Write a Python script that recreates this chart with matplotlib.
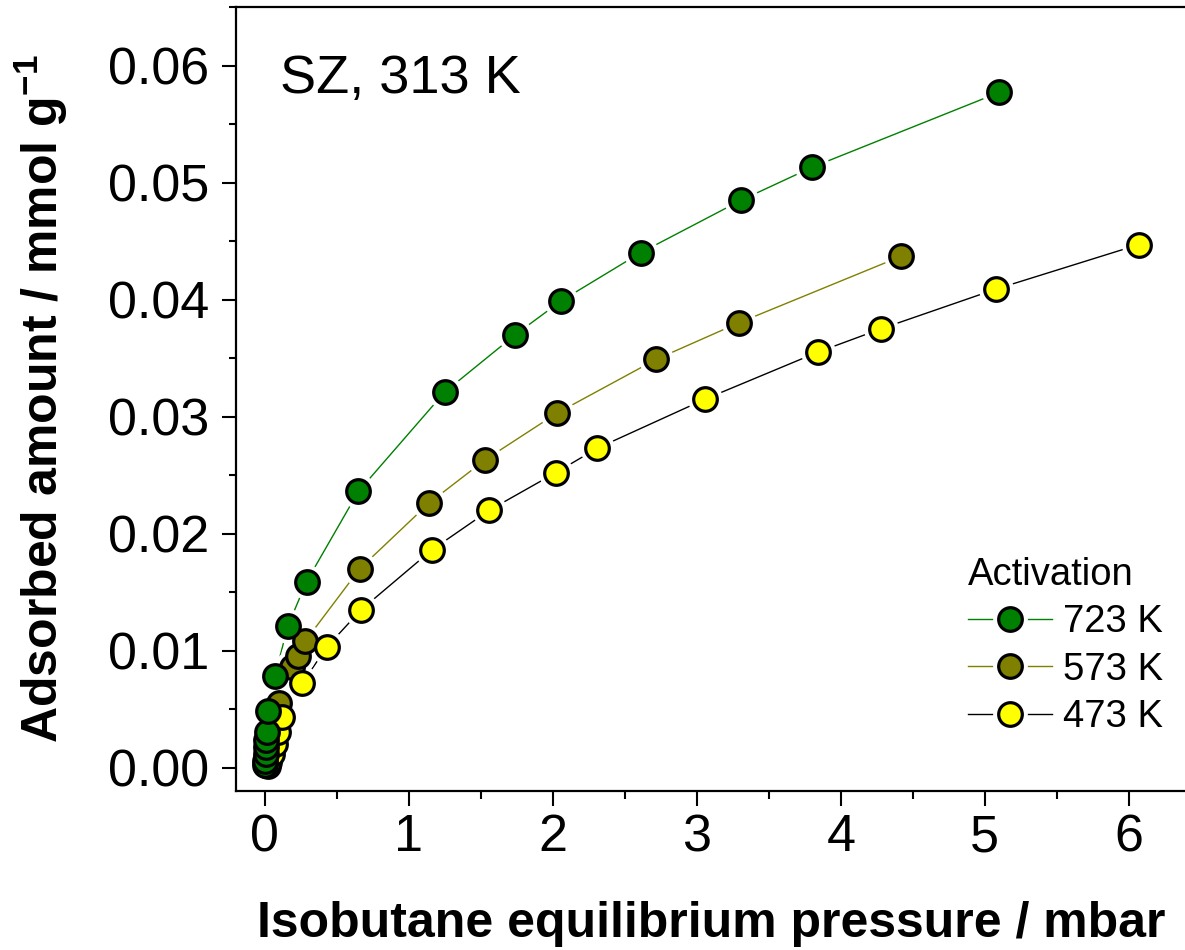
import matplotlib
matplotlib.use("Agg")
import matplotlib.pyplot as plt
from matplotlib.lines import Line2D
from matplotlib.legend_handler import HandlerTuple
from matplotlib.ticker import MultipleLocator

plt.rcParams['font.family'] = ['Liberation Sans', 'DejaVu Sans']
plt.rcParams['mathtext.fontset'] = 'custom'
plt.rcParams['mathtext.rm'] = 'Liberation Sans'
plt.rcParams['mathtext.bf'] = 'Liberation Sans:bold'
plt.rcParams['mathtext.default'] = 'regular'

# ---- data ----
p_723 = [0.001, 0.003, 0.005, 0.007, 0.010, 0.014, 0.02, 0.07, 0.16, 0.29, 0.65, 1.25, 1.74, 2.06, 2.61, 3.31, 3.80, 5.10]
q_723 = [0.0002, 0.0006, 0.0012, 0.0018, 0.0024, 0.0030, 0.0048, 0.0078, 0.0121, 0.0159, 0.0236, 0.0321, 0.0370, 0.0399, 0.0440, 0.0485, 0.0513, 0.0577]

p_573 = [0.01, 0.02, 0.035, 0.05, 0.07, 0.10, 0.19, 0.23, 0.28, 0.66, 1.14, 1.53, 2.03, 2.72, 3.29, 4.42]
q_573 = [0.0002, 0.0008, 0.0018, 0.0028, 0.0040, 0.0055, 0.0086, 0.0095, 0.0108, 0.0170, 0.0226, 0.0263, 0.0303, 0.0349, 0.0380, 0.0437]

p_473 = [0.02, 0.03, 0.05, 0.07, 0.09, 0.12, 0.26, 0.43, 0.67, 1.16, 1.56, 2.02, 2.31, 3.06, 3.84, 4.28, 5.08, 6.07]
q_473 = [0.0001, 0.0005, 0.0012, 0.0020, 0.0030, 0.0043, 0.0072, 0.0103, 0.0135, 0.0186, 0.0220, 0.0252, 0.0273, 0.0315, 0.0355, 0.0375, 0.0409, 0.0447]

labels = ['723 K', '573 K', '473 K']
fills = ['#008000', '#808000', '#FFFF00']
line_colors = ['#008000', '#808000', '#000000']
series = [(p_723, q_723), (p_573, q_573), (p_473, q_473)]
draw_order = [1, 2, 0]

fig = plt.figure(figsize=(11.85, 9.5), dpi=100)
ax = fig.add_axes([236 / 1185, 159 / 950, 950.4 / 1185, 784 / 950])

MS = 17
HALO = 25
lw = 1.0

for i in draw_order:
    x, y = series[i]
    ax.plot(x, y, '-', color=line_colors[i], lw=lw, zorder=2)
for i in draw_order:
    x, y = series[i]
    ax.plot(x, y, 'o', ls='none', ms=HALO, mfc='white', mec='none', zorder=3)
handles = []
for i in draw_order:
    x, y = series[i]
    ax.plot(x, y, 'o', ls='none', ms=MS, mfc=fills[i], mec='black', mew=2.3, zorder=4)

for i in range(3):
    ln = Line2D([], [], color=line_colors[i], lw=lw)
    halo = Line2D([], [], marker='o', ls='none', ms=HALO, mfc='white', mec='none')
    mk = Line2D([], [], marker='o', ls='none', ms=MS, mfc=fills[i], mec='black', mew=2.3)
    handles.append((ln, halo, mk))

ax.set_xlim(-0.2, 6.4)
ax.set_ylim(-0.002, 0.065)
ax.xaxis.set_major_locator(MultipleLocator(1))
ax.xaxis.set_minor_locator(MultipleLocator(0.5))
ax.yaxis.set_major_locator(MultipleLocator(0.01))
ax.yaxis.set_minor_locator(MultipleLocator(0.005))
ax.yaxis.set_major_formatter(matplotlib.ticker.FormatStrFormatter('%.2f'))

for s in ['left', 'bottom', 'top']:
    ax.spines[s].set_linewidth(1.6)
ax.spines['right'].set_visible(False)

ax.tick_params(axis='both', which='major', labelsize=37.5, width=1.5, direction='out')
ax.tick_params(axis='x', which='major', length=11, pad=5)
ax.tick_params(axis='x', which='minor', length=6, width=1.5)
ax.tick_params(axis='y', which='major', length=10, pad=9)
ax.tick_params(axis='y', which='minor', length=5, width=1.5)

ax.set_xlabel('Isobutane equilibrium pressure / mbar', fontsize=36, fontweight='bold')
ax.set_ylabel(r'Adsorbed amount / mmol g$^{\mathbf{-1}}$', fontsize=36, fontweight='bold')
ax.xaxis.set_label_coords(0.5, -0.14)
ax.yaxis.set_label_coords(-0.175, 0.5)

ax.text(280 / 1185, 1 - 93 / 950, 'SZ, 313 K', transform=fig.transFigure, fontsize=39,
        ha='left', va='baseline')

leg = ax.legend(handles, labels, handler_map={tuple: HandlerTuple(ndivide=1)},
                title='Activation', fontsize=27.5, title_fontsize=27.5, frameon=False,
                loc='upper left', bbox_to_anchor=(941 / 1185, 1 - 530 / 950),
                bbox_transform=fig.transFigure, handlelength=2.2, handletextpad=0.3,
                labelspacing=0.3, borderpad=0.2)
leg._legend_box.align = 'left'

fig.savefig('out.png', dpi=100)
